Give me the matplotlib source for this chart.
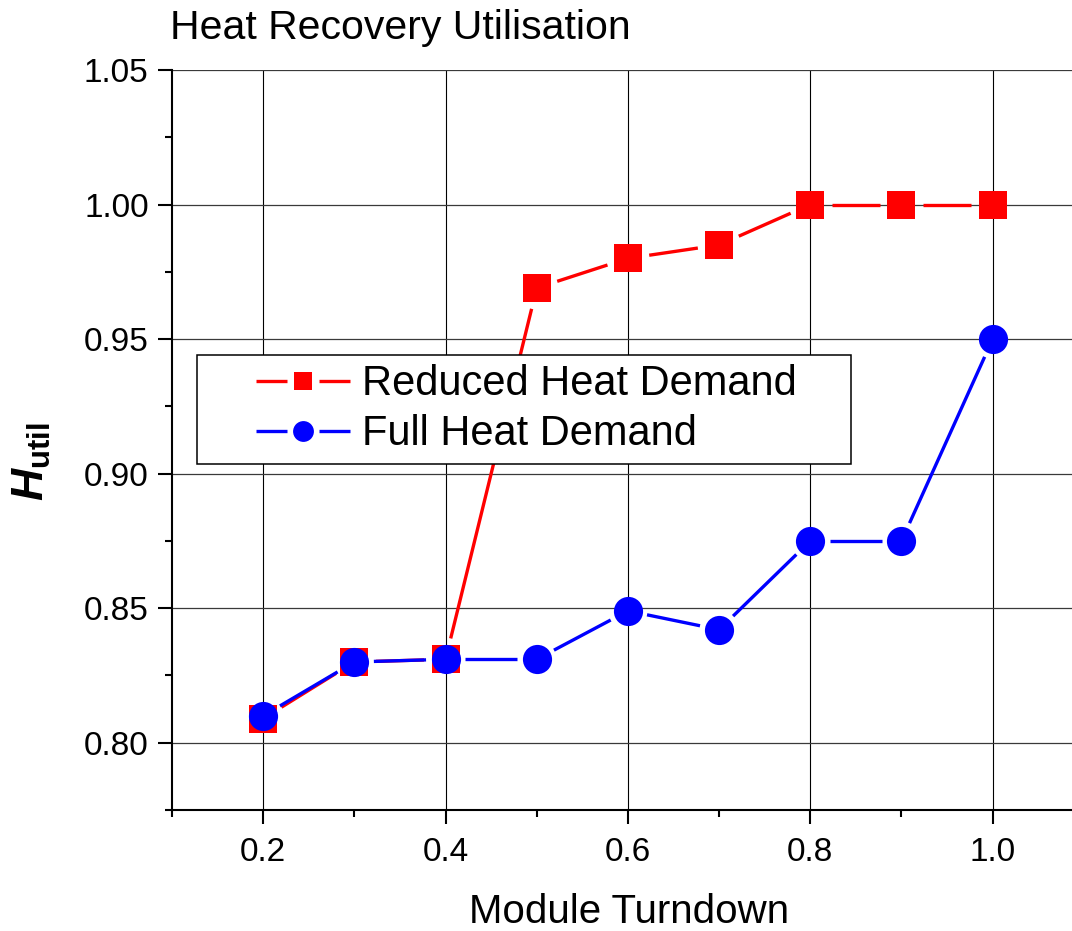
import numpy as np
import matplotlib
matplotlib.use("Agg")
import matplotlib.pyplot as plt
from matplotlib.lines import Line2D
from matplotlib.legend_handler import HandlerBase
from matplotlib.ticker import MultipleLocator, FormatStrFormatter

plt.rcParams['font.family'] = ['Liberation Sans', 'DejaVu Sans']
plt.rcParams['mathtext.fontset'] = 'custom'
plt.rcParams['mathtext.rm'] = 'Liberation Sans'
plt.rcParams['mathtext.it'] = 'Liberation Sans:italic:bold'
plt.rcParams['mathtext.bf'] = 'Liberation Sans:bold'

# ---------------- data ----------------
turndown = [0.2, 0.3, 0.4, 0.5, 0.6, 0.7, 0.8, 0.9, 1.0]
reduced_demand = [0.809, 0.830, 0.831, 0.969, 0.980, 0.985, 1.000, 1.000, 1.000]
full_demand = [0.810, 0.830, 0.831, 0.831, 0.849, 0.842, 0.875, 0.875, 0.950]
series_labels = ["Reduced Heat Demand", "Full Heat Demand"]
title_text = "Heat Recovery Utilisation"
xlabel_text = "Module Turndown"
ylabel_text = r"$H_{\mathbf{util}}$"

RED = "#ff0000"
BLUE = "#0000ff"

W, H = 1072, 931
fig = plt.figure(figsize=(W / 100, H / 100), dpi=100)
ax = fig.add_axes([172 / W, 1 - 810 / H, 900 / W, 740 / H])
ax.set_xlim(0.1, 1.087)
ax.set_ylim(0.775, 1.05)

for s in ("top", "right"):
    ax.spines[s].set_visible(False)
for s in ("left", "bottom"):
    ax.spines[s].set_linewidth(1.5)

ax.xaxis.set_major_locator(MultipleLocator(0.2))
ax.xaxis.set_minor_locator(MultipleLocator(0.1))
ax.yaxis.set_major_locator(MultipleLocator(0.05))
ax.yaxis.set_minor_locator(MultipleLocator(0.025))
ax.xaxis.set_major_formatter(FormatStrFormatter("%.1f"))
ax.yaxis.set_major_formatter(FormatStrFormatter("%.2f"))
ax.tick_params(which="major", direction="out", length=9.8, width=1.5, labelsize=24)
ax.tick_params(which="minor", direction="out", length=4.8, width=1.5)
ax.tick_params(axis="x", which="major", pad=9.5)
ax.tick_params(axis="y", which="major", pad=7)

ax.set_axisbelow(True)
ax.xaxis.grid(True, which="major", color="black", lw=0.8)
ax.yaxis.grid(True, which="major", color="#3a3a3a", lw=0.9)


def gapped_line(xs, ys, color, gap_px, lw):
    pts = ax.transData.transform(np.column_stack([xs, ys]))
    inv = ax.transData.inverted()
    for p, q in zip(pts[:-1], pts[1:]):
        d = q - p
        L = np.hypot(d[0], d[1])
        if L <= 2 * gap_px:
            continue
        u = d / L
        seg = inv.transform(np.array([p + u * gap_px, q - u * gap_px]))
        ax.plot(seg[:, 0], seg[:, 1], color=color, lw=lw,
                solid_capstyle="butt", zorder=2)


gapped_line(turndown, reduced_demand, RED, 21.5, 2.4)
gapped_line(turndown, full_demand, BLUE, 19.5, 2.4)
ax.plot(turndown, reduced_demand, linestyle="none", marker="s", ms=19.5,
        mew=0, color=RED, zorder=3)
ax.plot(turndown, full_demand, linestyle="none", marker="o", ms=21,
        mew=0, color=BLUE, zorder=4)


class GapHandler(HandlerBase):
    def __init__(self, marker, ms, color):
        super().__init__()
        self.marker, self.ms, self.color = marker, ms, color

    def create_artists(self, legend, orig_handle, xdescent, ydescent,
                       width, height, fontsize, trans):
        y = height / 2 - ydescent
        x0 = -xdescent
        f = lambda t: x0 + t * width
        l1 = Line2D([f(0.348), f(0.562)], [y, y], color=self.color, lw=2.4,
                    solid_capstyle="butt")
        l2 = Line2D([f(0.786), f(1.0)], [y, y], color=self.color, lw=2.4,
                    solid_capstyle="butt")
        m = Line2D([f(0.674)], [y], marker=self.marker, ms=self.ms, mew=0,
                   color=self.color, linestyle="none")
        for a in (l1, l2, m):
            a.set_transform(trans)
        return [l1, l2, m]


h1 = Line2D([], [], color=RED)
h2 = Line2D([], [], color=BLUE)
leg = ax.legend([h1, h2], series_labels,
                handler_map={h1: GapHandler("s", 13.5, RED),
                             h2: GapHandler("o", 15, BLUE)},
                loc="upper left", bbox_to_anchor=(0.0278, 0.476, 0.7267, 0.1385),
                mode="expand", borderaxespad=0, fontsize=30,
                handlelength=3.45, handletextpad=0.3, borderpad=0.22,
                labelspacing=0.24, fancybox=False, framealpha=1,
                edgecolor="black")
leg.get_frame().set_linewidth(1.1)
leg.set_zorder(5)

fig.text(170 / W, 1 - 39 / H, title_text, fontsize=29.5, ha="left", va="baseline")
ax.set_xlabel(xlabel_text, fontsize=29)
ax.xaxis.set_label_coords(0.508, -0.112)
ax.set_ylabel(ylabel_text, fontsize=32)
ax.yaxis.set_label_coords(-0.132, 0.47)

fig.savefig("out.png", dpi=100)
